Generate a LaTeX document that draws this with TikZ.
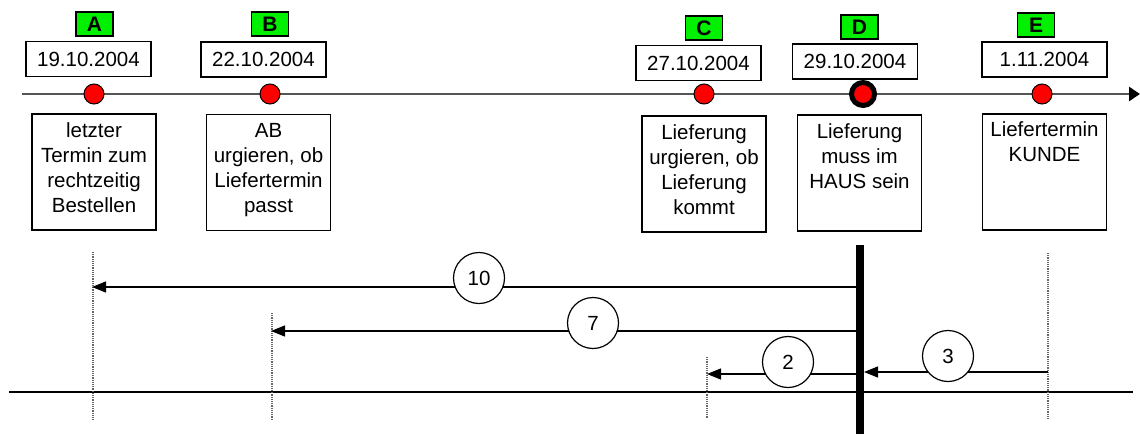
\documentclass[tikz,border=0pt]{standalone}
\usepackage{fontspec}
\setmainfont{Liberation Sans}
\usetikzlibrary{arrows.meta}
\definecolor{lime}{RGB}{0,240,0}
\definecolor{tlgray}{RGB}{85,85,85}
\begin{document}
\begin{tikzpicture}[x=1pt,y=-1pt,
  font=\fontsize{20.5}{25}\selectfont,
  lettbox/.style={draw, line width=1.2pt, fill=lime, minimum width=37pt, minimum height=24pt, inner sep=0pt, font=\fontsize{21}{22}\selectfont\bfseries},
  datebox/.style={draw, line width=1.2pt, fill=white, minimum width=125pt, minimum height=35pt, inner sep=0pt},
  descbox/.style={draw, line width=1.2pt, minimum width=124pt, minimum height=116pt, inner sep=0pt},
  desctext/.style={anchor=north, align=center, inner sep=0pt},
  evdot/.style={circle, draw=black, line width=1pt, fill=red, minimum size=20pt, inner sep=0pt},
  keydot/.style={circle, draw=black, line width=5pt, fill=red, minimum size=23pt, inner sep=0pt},
  numc/.style={circle, draw, line width=1.2pt, fill=white, minimum width=51pt, minimum height=49pt, inner sep=0pt},
  guide/.style={densely dotted, black!60, line width=1.2pt},
  arr/.style={-{Triangle[length=14pt,width=11pt]}, line width=1.3pt}]
\useasboundingbox (0,0) rectangle (1140,434);

% timeline
\coordinate (tlS) at (22,94);
\coordinate (tlE) at (1140,94);
\draw[tlgray, line width=2.5pt, -{Triangle[length=11pt,width=14pt,color=black]}] (tlS) -- (tlE);

% event dots
\node[evdot] (pA) at (94,94) {};
\node[evdot] (pB) at (270,94) {};
\node[evdot] (pC) at (704,94) {};
\node[keydot] (pD) at (863,94) {};
\node[evdot] (pE) at (1042,94) {};

% letter boxes
\node[lettbox] (lA) at (94.5,24) {A};
\node[lettbox] (lB) at (270,24) {B};
\node[lettbox] (lC) at (704,28) {C};
\node[lettbox] (lD) at (859.5,27) {D};
\node[lettbox] (lE) at (1036,25) {E};

% date boxes
\node[datebox] (dA) at (88.5,59) {19.10.2004};
\node[datebox] (dB) at (263.5,59.5) {22.10.2004};
\node[datebox] (dC) at (698.5,63) {27.10.2004};
\node[datebox] (dD) at (855,61.5) {29.10.2004};
\node[datebox] (dE) at (1044.5,59.5) {1.11.2004};

% description boxes
\node[descbox] (bA) at (94,172) {};
\node[descbox] (bB) at (268.5,172.5) {};
\node[descbox] (bC) at (704,174) {};
\node[descbox] (bD) at (859.5,173) {};
\node[descbox] (bE) at (1044.5,172) {};
\node[desctext] (tA) at ([yshift=-9pt]bA.north) {letzter\\Termin zum\\rechtzeitig\\Bestellen};
\node[desctext] (tB) at ([yshift=-9pt]bB.north) {AB\\urgieren, ob\\Liefertermin\\passt};
\node[desctext] (tC) at ([yshift=-9pt]bC.north) {Lieferung\\urgieren, ob\\Lieferung\\kommt};
\node[desctext] (tD) at ([yshift=-9pt]bD.north) {Lieferung\\muss im\\HAUS sein};
\node[desctext] (tE) at ([yshift=-8pt]bE.north) {Liefertermin\\KUNDE};

% lower part: base line
\coordinate (blS) at (9,392);
\coordinate (blE) at (1133,392);
\draw[line width=1.5pt] (blS) -- (blE);

% dotted guides
\coordinate (gAt) at (93,252);  \coordinate (gAb) at (93,420);
\coordinate (gBt) at (272,313); \coordinate (gBb) at (272,419);
\coordinate (gCt) at (707,357); \coordinate (gCb) at (707,418);
\coordinate (gEt) at (1048,253); \coordinate (gEb) at (1048,420);
\draw[guide] (gAt) -- (gAb);
\draw[guide] (gBt) -- (gBb);
\draw[guide] (gCt) -- (gCb);
\draw[guide] (gEt) -- (gEb);

% arrows
\coordinate (s10) at (860,287); \coordinate (e10) at (92,287);
\coordinate (s7) at (860,331);  \coordinate (e7) at (271,331);
\coordinate (s2) at (860,374);  \coordinate (e2) at (707,374);
\coordinate (s3) at (1048,372); \coordinate (e3) at (864,372);
\draw[arr] (s10) -- (e10);
\draw[arr] (s7) -- (e7);
\draw[arr] (s2) -- (e2);
\draw[arr] (s3) -- (e3);

% thick bar
\coordinate (barT) at (860,245);
\coordinate (barB) at (860,434);
\draw[line width=8pt] (barT) -- (barB);

% number circles
\node[numc] (n10) at (479,278) {10};
\node[numc] (n7) at (593,323) {7};
\node[numc] (n2) at (788,362) {2};
\node[numc] (n3) at (948,356) {3};
\end{tikzpicture}
\end{document}
